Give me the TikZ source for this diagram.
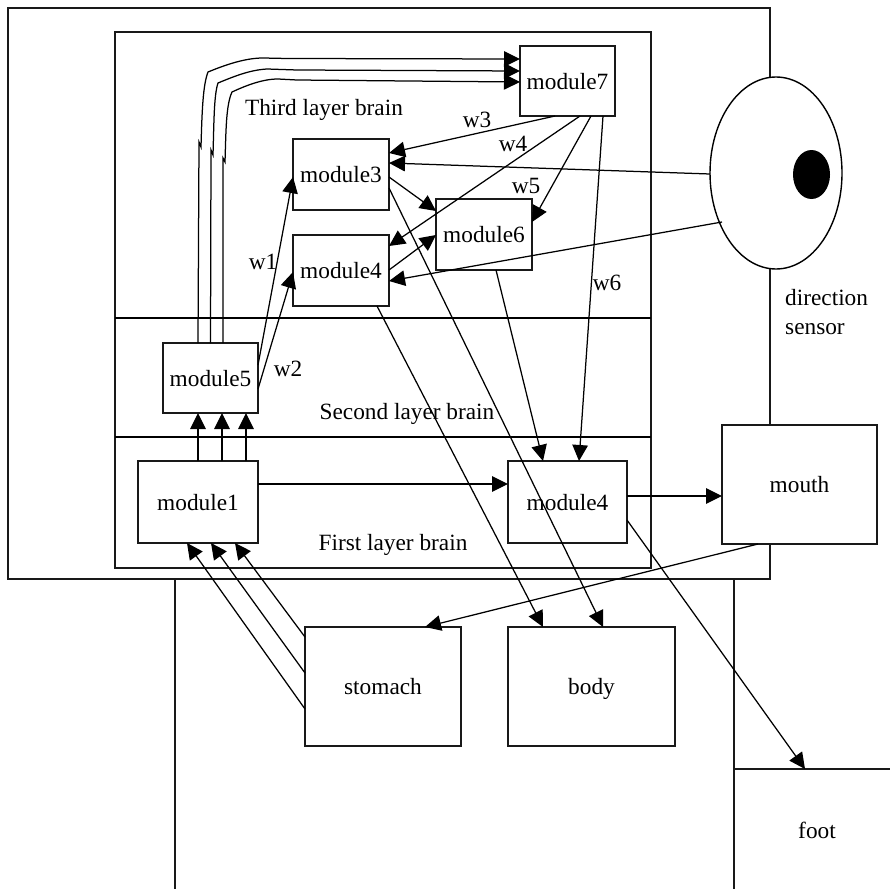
\documentclass[tikz,border=0pt]{standalone}
\usepackage{fontspec}
\setmainfont{Liberation Serif}
\usetikzlibrary{positioning,arrows.meta,calc,shapes.geometric}

\begin{document}
\begin{tikzpicture}[
  x=1pt, y=-1pt,
  font=\fontsize{23.3}{30}\selectfont,
  >={Triangle[length=16pt, width=15.5pt]},
  box/.style={draw=black!90, fill=white, line width=1.4pt, inner sep=0pt, outer sep=0pt, align=center, text height=16pt, text depth=0pt},
  modbox/.style={box, minimum width=96pt, minimum height=71pt},
  wire/.style={->, line width=1.25pt},
  layerline/.style={line width=1.8pt},
  lab/.style={inner sep=0pt, text height=16pt, text depth=0pt}
]
\useasboundingbox (0,0) rectangle (890,888);
\clip (0,0) rectangle (890,888);

% ---------------- FRAMES ----------------
\node (head) at (389,293.5) [box, minimum width=762pt, minimum height=571pt] {};
\node (torso) at (454.5,739.5) [box, minimum width=559pt, minimum height=321pt] {};
\node (foot) at (817,830) [box, minimum width=166pt, minimum height=122pt] {foot};
\node (brain) at (383,300) [box, minimum width=536pt, minimum height=536pt] {};
\coordinate (layA) at (115,318);
\coordinate (layB) at (115,437);
\draw[layerline] (layA) -- (layA -| brain.east);
\draw[layerline] (layB) -- (layB -| brain.east);

% ---------------- SENSOR ----------------
\node (eye) at (776,173) [ellipse, draw=black, fill=white, line width=1.4pt, inner sep=0pt, outer sep=0pt, minimum width=132pt, minimum height=192pt] {};
\node (pupil) at (811.5,174.5) [ellipse, fill=black, inner sep=0pt, minimum width=37pt, minimum height=49pt] {};
\node (sens) at (785,312) [inner sep=0pt, anchor=west, align=left, font=\fontsize{23.3}{29.5}\selectfont] {direction\\sensor};

% ---------------- MODULES ----------------
\node (m7) at (567.5,81) [modbox, minimum width=95pt, minimum height=70pt] {module7};
\node (m3) at (341,174.5) [modbox] {module3};
\node (m4u) at (341,270.5) [modbox] {module4};
\node (m6) at (484,234.5) [modbox] {module6};
\node (m5) at (210.5,378) [modbox, minimum width=95pt, minimum height=70pt] {module5};
\node (m1) at (198,502) [box, minimum width=120pt, minimum height=82pt] {module1};
\node (m4l) at (567.5,502) [box, minimum width=119pt, minimum height=82pt] {module4};
\node (mouth) at (799.5,484.5) [box, minimum width=155pt, minimum height=119pt] {mouth};
\node (stomach) at (383,686.5) [box, minimum width=156pt, minimum height=119pt] {stomach};
\node (body) at (591.5,686.5) [box, minimum width=167pt, minimum height=119pt] {body};

% ---------------- WIRES ----------------
\draw[wire] ($(m5)+(-12.5,-35)$) -- (199,142) -- (201,147) .. controls (202,110) and (203,85) .. (208,72) .. controls (225,65) and (245,58) .. (263,58) -- (287,58.5) -- ($(m7.west)+(0,-22)$);
\draw[wire] ($(m5)+(0,-35)$) -- (211,150) -- (213,155) .. controls (214,120) and (214,95) .. (218,83) .. controls (235,76) and (250,70) .. (267,69) -- (297,70) -- ($(m7.west)+(0,-10)$);
\draw[wire] ($(m5)+(12.5,-35)$) -- (223,158) -- (225,162) .. controls (226,130) and (226,105) .. (232,92) .. controls (245,86) and (262,79) .. (278,79) -- (297,80) -- ($(m7.west)+(0,1)$);

\draw[wire] ($(m1)+(0,-41)$) -- ($(m5)+(-12.5,35)$);
\draw[wire] ($(m1)+(24,-41)$) -- ($(m5)+(11.5,35)$);
\draw[wire] ($(m1)+(48,-41)$) -- ($(m5)+(35.5,35)$);
\draw[wire] ($(m5)+(47.5,-13)$) -- ($(m3)+(-48,2.5)$);
\draw[wire] ($(m5)+(47.5,11)$) -- ($(m4u)+(-48,1.5)$);
\draw[wire] ($(m7)+(-12.5,35)$) -- ($(m3)+(48,-21.5)$);
\draw[wire] ($(m7)+(12.5,35)$) -- ($(m4u)+(48,-24.5)$);
\draw[wire] ($(m7)+(23.5,35)$) -- ($(m6)+(48,-12.5)$);
\draw[wire] ($(m7)+(35.5,35)$) -- ($(m4l)+(11.5,-41)$);
\draw[wire] ($(eye)+(-66,1)$) -- ($(m3)+(48,-11.5)$);
\draw[wire] ($(eye)+(-54,49)$) -- ($(m4u)+(48,10.5)$);
\draw[wire] ($(m3)+(48,2.5)$) -- ($(m6)+(-48,-23.5)$);
\draw[wire] ($(m4u)+(48,-0.5)$) -- ($(m6)+(-48,0.5)$);
\draw[wire] ($(m3)+(48,13.5)$) -- ($(body)+(11.5,-59.5)$);
\draw[wire] ($(m4u)+(36,35.5)$) -- ($(body)+(-48.5,-59.5)$);
\draw[wire] ($(m6)+(12,35.5)$) -- ($(m4l)+(-24.5,-41)$);
\draw[wire] ($(m1)+(60,-18)$) -- ($(m4l)+(-59.5,-18)$);
\draw[wire] ($(m4l)+(59.5,-6)$) -- ($(mouth)+(-77.5,11.5)$);
\draw[wire] ($(m4l)+(59.5,18)$) -- ($(foot)+(-12,-61)$);
\draw[wire] ($(mouth)+(-41.5,59.5)$) -- ($(stomach)+(42,-59.5)$);
\draw[wire] ($(stomach)+(-78,22.5)$) -- ($(m1)+(-11,41)$);
\draw[wire] ($(stomach)+(-78,-13.5)$) -- ($(m1)+(13,41)$);
\draw[wire] ($(stomach)+(-78,-49.5)$) -- ($(m1)+(37,41)$);

% ---------------- LABELS ----------------
\node (layT) at (324,107) [lab] {Third layer brain};
\node (layS) at (407,411) [lab] {Second layer brain};
\node (layF) at (393,542) [lab] {First layer brain};
\node (w1) at (263,261) [lab] {w1};
\node (w2) at (288,368) [lab] {w2};
\node (w3) at (477,119) [lab] {w3};
\node (w4) at (513,143) [lab] {w4};
\node (w5) at (526,185) [lab] {w5};
\node (w6) at (607,282) [lab] {w6};

\end{tikzpicture}
\end{document}
